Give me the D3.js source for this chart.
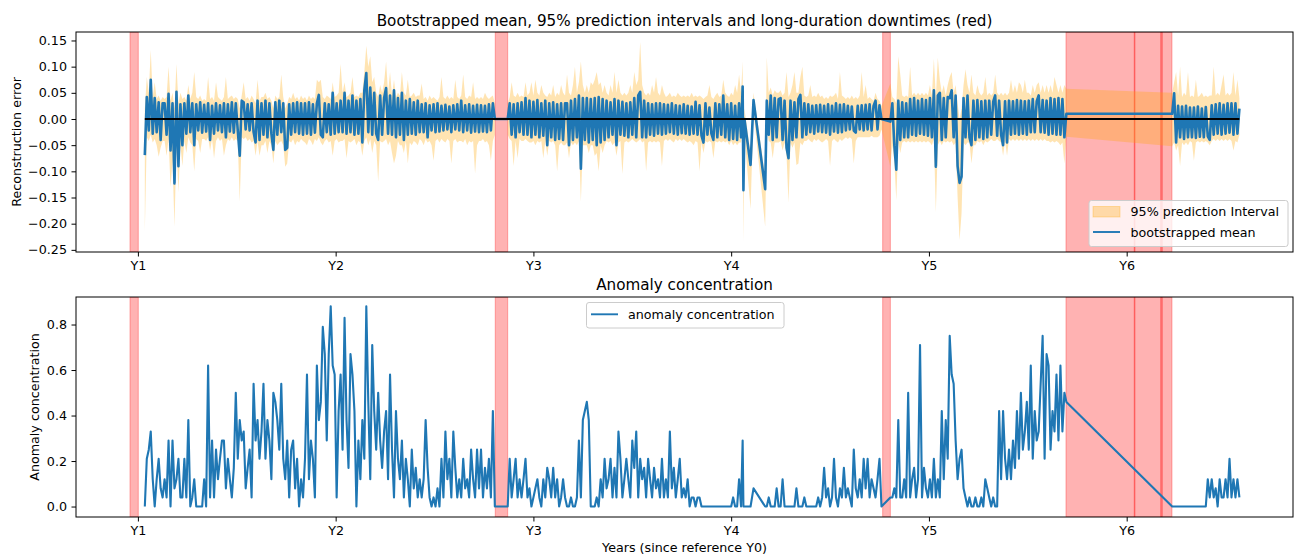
<!DOCTYPE html>
<html>
<head>
<meta charset="utf-8">
<script src="https://cdn.jsdelivr.net/npm/d3@7"></script>
<style>
  body { margin: 0; background: #fff; }
  svg { font-family: "DejaVu Sans", sans-serif; }
</style>
</head>
<body>
<div id="chart"></div>
<script>
// time grid: every segment starts at segStart (years since Y0) and steps 0.01 yr
var step = 0.01;
var segStart = [1.035, 2.87, 4.058, 4.062, 4.067, 4.098, 4.113, 4.172, 4.18, 4.805, 6.23];
var segCount = [178, 119, 1, 1, 1, 1, 1, 1, 59, 90, 35];
// the prediction band is not drawn across the downtime before Y3
var joinBand = [false, false, true, true, true, true, true, true, true, true, true];

// bootstrapped mean of the reconstruction error
var meanErr = [
  // Y1.035 - Y2.805
  -0.069, 0.042, -0.022, 0.075, -0.028, 0.04, -0.025, 0.032, -0.04, 0.03,
  0.03, -0.03, 0.048, -0.06, 0.03, -0.123, 0.052, -0.09, 0.028, -0.05,
  0.03, -0.028, 0.045, -0.025, 0.03, -0.05, 0.028, -0.022, 0.032, -0.026,
  0.027, -0.024, 0.03, -0.04, 0.025, -0.028, 0.03, -0.022, 0.026, -0.025,
  0.03, -0.035, 0.028, -0.024, 0.032, -0.026, 0.03, -0.022, -0.07, 0.035,
  0.032, -0.02, 0.028, -0.022, 0.03, -0.025, -0.045, 0.035, -0.04, 0.03,
  -0.03, 0.035, -0.035, 0.03, -0.028, -0.059, 0.032, -0.03, 0.035, -0.025,
  0.03, -0.059, -0.055, 0.028, -0.03, 0.03, -0.025, 0.032, -0.028, 0.03,
  -0.03, 0.03, -0.028, 0.032, -0.03, 0.028, -0.026, 0.03, 0.046, -0.03,
  -0.035, 0.03, -0.025, 0.028, -0.03, 0.05, -0.028, 0.03, -0.025, 0.035,
  -0.025, 0.05, -0.028, 0.035, -0.025, 0.045, -0.03, 0.035, -0.028, 0.038,
  -0.045, 0.055, 0.088, -0.025, 0.06, -0.03, 0.05, -0.028, -0.04, 0.045,
  -0.03, 0.04, 0.059, -0.028, 0.045, -0.03, 0.055, -0.035, 0.04, -0.03,
  0.05, -0.04, 0.035, -0.03, 0.038, -0.028, 0.032, -0.03, 0.035, -0.025,
  0.028, -0.025, 0.03, -0.035, 0.026, -0.022, 0.028, -0.025, 0.03, -0.024,
  0.025, -0.022, 0.027, -0.02, 0.024, -0.025, 0.026, -0.02, 0.028, -0.022,
  0.035, -0.025, 0.026, -0.022, 0.028, -0.026, 0.025, -0.024, 0.027, -0.025,
  0.026, -0.024, 0.025, -0.025, 0.028, -0.022, 0.03, 0.0,
  // Y2.87 - Y4.05
  0.0, 0.03, -0.03, 0.028, -0.035, 0.03, -0.025, 0.032, -0.03, 0.04,
  -0.03, 0.035, -0.035, 0.033, -0.03, 0.036, -0.035, 0.03, -0.032, 0.035,
  -0.05, 0.03, -0.035, 0.032, -0.04, 0.028, -0.038, 0.03, -0.04, 0.03,
  0.03, -0.05, 0.035, -0.04, 0.038, -0.035, 0.045, -0.095, 0.04, -0.04,
  0.04, -0.045, 0.038, -0.04, 0.04, -0.05, 0.042, -0.045, 0.038, -0.04,
  0.035, -0.035, 0.032, -0.03, 0.038, -0.05, 0.035, -0.03, 0.033, -0.032,
  0.03, -0.035, 0.032, -0.03, 0.04, -0.035, 0.045, 0.052, -0.035, 0.035,
  -0.035, 0.03, -0.03, 0.028, -0.032, 0.03, -0.028, 0.03, -0.03, 0.028,
  -0.028, 0.027, -0.025, 0.03, -0.028, 0.026, -0.03, 0.025, -0.027, 0.028,
  -0.028, 0.025, -0.03, 0.024, -0.028, 0.033, -0.03, 0.026, -0.032, -0.045,
  0.03, -0.03, 0.022, -0.028, -0.04, 0.03, -0.035, 0.028, -0.03, 0.045,
  -0.035, 0.028, -0.04, 0.03, -0.038, 0.025, -0.04, 0.03, -0.035,
  // sparse points after Y4
  0.062, -0.136, 0.0, -0.088, 0.036, -0.134,
  // Y4.18 - Y4.76
  0.035, -0.03, 0.045, -0.04, 0.04, -0.035, 0.038, 0.04, -0.04, 0.035,
  -0.055, -0.075, 0.035, -0.04, 0.032, -0.035, 0.038, 0.046, -0.035, 0.03,
  -0.03, 0.028, -0.025, 0.025, -0.028, 0.026, -0.024, 0.027, -0.025, 0.025,
  -0.026, 0.028, -0.03, 0.025, -0.024, 0.03, -0.026, 0.027, -0.025, 0.028,
  -0.022, 0.025, -0.02, 0.024, -0.022, -0.026, 0.025, -0.02, 0.026, -0.022,
  0.027, -0.02, 0.028, -0.022, 0.025, 0.035, -0.02, 0.026, 0.0,
  // Y4.805 - Y5.695
  -0.005, 0.03, -0.05, -0.097, 0.035, -0.04, 0.032, -0.035, 0.03, -0.035,
  0.038, -0.03, 0.04, -0.032, 0.035, -0.028, 0.038, -0.03, 0.036, -0.032,
  0.04, -0.035, 0.055, -0.091, 0.045, 0.05, -0.04, 0.04, -0.035, 0.042,
  0.04, 0.055, -0.035, 0.045, -0.09, -0.122, -0.11, 0.04, -0.035, 0.045,
  -0.035, -0.05, 0.035, -0.04, 0.036, -0.035, 0.034, -0.038, 0.035, -0.035,
  0.035, -0.03, 0.033, 0.045, -0.032, 0.035, -0.03, -0.05, 0.034, -0.045,
  0.035, -0.03, 0.034, -0.028, 0.036, -0.03, 0.035, -0.028, 0.034, -0.03,
  0.035, -0.025, 0.038, -0.025, 0.034, 0.045, -0.025, 0.036, -0.026, 0.035,
  -0.03, 0.04, -0.028, 0.038, -0.03, 0.04, -0.03, 0.038, -0.035, 0.01,
  // Y6.23 - Y6.57
  0.01, 0.049, -0.045, 0.025, -0.035, 0.024, -0.038, 0.025, -0.035, 0.022,
  -0.035, 0.022, -0.036, 0.024, -0.034, 0.02, -0.035, 0.023, -0.033, -0.04,
  0.026, -0.03, 0.028, -0.028, 0.03, -0.03, 0.027, -0.028, 0.03, -0.026,
  0.03, -0.03, 0.03, -0.028, 0.02
];

// upper bound of the 95% prediction interval
var upperPI = [
  0.02, 0.08, 0.05, 0.132, 0.042, 0.07, 0.038, 0.045, 0.035, 0.042,
  0.038, 0.042, 0.1, 0.035, 0.05, 0.02, 0.105, 0.03, 0.05, 0.038,
  0.042, 0.035, 0.065, 0.038, 0.05, 0.09, 0.042, 0.038, 0.045, 0.035,
  0.038, 0.035, 0.08, 0.038, 0.042, 0.035, 0.07, 0.042, 0.038, 0.035,
  0.042, 0.08, 0.038, 0.042, 0.045, 0.038, 0.042, 0.038, 0.02, 0.045,
  0.07, 0.038, 0.042, 0.035, 0.045, 0.038, 0.03, 0.075, 0.035, 0.042,
  0.042, 0.05, 0.038, 0.042, 0.035, 0.02, 0.045, 0.038, 0.042, 0.085,
  0.042, 0.02, 0.03, 0.042, 0.038, 0.05, 0.038, 0.042, 0.035, 0.045,
  0.038, 0.042, 0.035, 0.045, 0.038, 0.042, 0.038, 0.075, 0.07, 0.075,
  0.042, 0.038, 0.045, 0.042, 0.038, 0.07, 0.042, 0.045, 0.05, 0.105,
  0.05, 0.07, 0.042, 0.045, 0.05, 0.08, 0.042, 0.045, 0.042, 0.05,
  0.05, 0.09, 0.14, 0.1, 0.12, 0.07, 0.08, 0.05, 0.042, 0.065,
  0.05, 0.07, 0.11, 0.05, 0.09, 0.045, 0.075, 0.042, 0.05, 0.045,
  0.09, 0.05, 0.045, 0.075, 0.042, 0.045, 0.05, 0.042, 0.045, 0.045,
  0.068, 0.038, 0.042, 0.035, 0.045, 0.038, 0.042, 0.038, 0.035, 0.042,
  0.08, 0.042, 0.038, 0.045, 0.038, 0.042, 0.038, 0.075, 0.042, 0.038,
  0.045, 0.085, 0.042, 0.038, 0.045, 0.042, 0.07, 0.038, 0.042, 0.038,
  0.042, 0.038, 0.05, 0.042, 0.038, 0.042, 0.045, 0.03,
  0.03, 0.042, 0.07, 0.045, 0.042, 0.05, 0.042, 0.045, 0.042, 0.07,
  0.045, 0.05, 0.07, 0.045, 0.075, 0.05, 0.045, 0.065, 0.05, 0.045,
  0.042, 0.05, 0.045, 0.065, 0.042, 0.05, 0.045, 0.065, 0.05, 0.045,
  0.085, 0.05, 0.045, 0.065, 0.1, 0.05, 0.07, 0.11, 0.065, 0.05,
  0.065, 0.05, 0.07, 0.065, 0.075, 0.09, 0.065, 0.07, 0.05, 0.065,
  0.05, 0.045, 0.065, 0.05, 0.09, 0.05, 0.075, 0.05, 0.045, 0.05,
  0.045, 0.05, 0.065, 0.05, 0.09, 0.065, 0.075, 0.147, 0.065, 0.05,
  0.045, 0.05, 0.045, 0.065, 0.05, 0.08, 0.05, 0.045, 0.065, 0.05,
  0.042, 0.045, 0.05, 0.042, 0.045, 0.042, 0.05, 0.045, 0.042, 0.045,
  0.042, 0.045, 0.042, 0.05, 0.042, 0.045, 0.042, 0.045, 0.042, 0.038,
  0.042, 0.045, 0.065, 0.042, 0.038, 0.045, 0.05, 0.042, 0.045, 0.075,
  0.05, 0.045, 0.042, 0.05, 0.045, 0.065, 0.05, 0.085, 0.05,
  0.11, -0.1, 0.02, -0.065, 0.05, -0.11,
  0.118, 0.05, 0.06, 0.045, 0.055, 0.05, 0.05, 0.055, 0.045, 0.05,
  0.09, 0.042, 0.05, 0.065, 0.09, 0.05, 0.05, 0.08, 0.1, 0.045,
  0.042, 0.045, 0.065, 0.042, 0.045, 0.042, 0.05, 0.042, 0.045, 0.038,
  0.042, 0.038, 0.045, 0.042, 0.045, 0.05, 0.038, 0.09, 0.045, 0.042,
  0.038, 0.042, 0.038, 0.045, 0.038, 0.042, 0.038, 0.045, 0.09, 0.042,
  0.065, 0.038, 0.042, 0.038, 0.035, 0.05, 0.038, 0.035, 0.025,
  0.068, 0.042, 0.038, 0.03, 0.12, 0.085, 0.045, 0.042, 0.045, 0.042,
  0.1, 0.045, 0.05, 0.045, 0.05, 0.045, 0.05, 0.045, 0.05, 0.045,
  0.065, 0.045, 0.115, 0.042, 0.117, 0.075, 0.05, 0.065, 0.045, 0.065,
  0.08, 0.09, 0.05, 0.065, 0.03, 0.0, 0.02, 0.065, 0.095, 0.065,
  0.05, 0.085, 0.05, 0.045, 0.065, 0.05, 0.045, 0.05, 0.08, 0.045,
  0.05, 0.045, 0.05, 0.085, 0.05, 0.045, 0.05, 0.045, 0.05, 0.045,
  0.05, 0.075, 0.05, 0.065, 0.05, 0.07, 0.065, 0.05, 0.075, 0.05,
  0.05, 0.045, 0.065, 0.05, 0.065, 0.07, 0.05, 0.065, 0.05, 0.065,
  0.05, 0.065, 0.05, 0.08, 0.065, 0.05, 0.065, 0.05, 0.065, 0.058,
  0.05, 0.07, 0.09, 0.045, 0.1, 0.042, 0.05, 0.045, 0.09, 0.042,
  0.045, 0.042, 0.075, 0.042, 0.045, 0.05, 0.042, 0.045, 0.042, 0.045,
  0.045, 0.1, 0.045, 0.05, 0.045, 0.065, 0.085, 0.045, 0.05, 0.045,
  0.05, 0.09, 0.045, 0.075, 0.04
];

// lower bound of the 95% prediction interval
var lowerPI = [
  -0.215, -0.035, -0.042, -0.03, -0.045, -0.038, -0.05, -0.072, -0.055, -0.042,
  -0.042, -0.07, -0.038, -0.13, -0.08, -0.206, -0.05, -0.14, -0.05, -0.09,
  -0.042, -0.065, -0.035, -0.045, -0.05, -0.1, -0.038, -0.042, -0.065, -0.038,
  -0.038, -0.042, -0.035, -0.06, -0.038, -0.075, -0.042, -0.035, -0.042, -0.038,
  -0.07, -0.05, -0.038, -0.042, -0.035, -0.042, -0.038, -0.042, -0.158, -0.035,
  -0.038, -0.035, -0.042, -0.038, -0.045, -0.042, -0.07, -0.042, -0.07, -0.05,
  -0.05, -0.042, -0.065, -0.042, -0.05, -0.085, -0.042, -0.05, -0.045, -0.042,
  -0.05, -0.091, -0.085, -0.042, -0.045, -0.038, -0.05, -0.042, -0.045, -0.038,
  -0.042, -0.045, -0.05, -0.038, -0.042, -0.05, -0.038, -0.042, -0.035, -0.045,
  -0.05, -0.042, -0.038, -0.045, -0.042, -0.07, -0.042, -0.038, -0.045, -0.042,
  -0.042, -0.038, -0.075, -0.042, -0.045, -0.042, -0.038, -0.05, -0.042, -0.045,
  -0.07, -0.042, -0.035, -0.05, -0.038, -0.065, -0.042, -0.05, -0.12, -0.042,
  -0.045, -0.042, -0.038, -0.05, -0.042, -0.065, -0.085, -0.07, -0.042, -0.05,
  -0.05, -0.065, -0.042, -0.085, -0.045, -0.05, -0.042, -0.045, -0.05, -0.038,
  -0.042, -0.05, -0.038, -0.045, -0.042, -0.05, -0.08, -0.042, -0.038, -0.045,
  -0.038, -0.042, -0.045, -0.038, -0.042, -0.085, -0.042, -0.038, -0.045, -0.042,
  -0.042, -0.045, -0.038, -0.05, -0.042, -0.045, -0.042, -0.104, -0.05, -0.042,
  -0.042, -0.038, -0.045, -0.042, -0.05, -0.08, -0.042, -0.03,
  -0.03, -0.038, -0.042, -0.09, -0.042, -0.075, -0.038, -0.042, -0.042, -0.038,
  -0.042, -0.045, -0.045, -0.042, -0.05, -0.042, -0.045, -0.042, -0.075, -0.042,
  -0.07, -0.042, -0.045, -0.042, -0.05, -0.1, -0.05, -0.045, -0.05, -0.05,
  -0.045, -0.075, -0.045, -0.05, -0.045, -0.05, -0.042, -0.158, -0.05, -0.05,
  -0.05, -0.065, -0.05, -0.05, -0.07, -0.065, -0.1, -0.05, -0.065, -0.05,
  -0.042, -0.045, -0.042, -0.05, -0.045, -0.07, -0.045, -0.042, -0.105, -0.045,
  -0.042, -0.045, -0.042, -0.038, -0.042, -0.045, -0.042, -0.038, -0.045, -0.042,
  -0.1, -0.045, -0.042, -0.045, -0.042, -0.045, -0.042, -0.045, -0.09, -0.042,
  -0.038, -0.042, -0.038, -0.042, -0.045, -0.038, -0.042, -0.038, -0.042, -0.038,
  -0.042, -0.045, -0.042, -0.045, -0.05, -0.042, -0.045, -0.1, -0.045, -0.065,
  -0.042, -0.045, -0.042, -0.045, -0.075, -0.042, -0.045, -0.042, -0.045, -0.042,
  -0.045, -0.042, -0.05, -0.042, -0.05, -0.045, -0.05, -0.045, -0.045,
  -0.02, -0.234, -0.03, -0.172, 0.015, -0.206,
  -0.02, -0.042, -0.045, -0.075, -0.045, -0.045, -0.045, -0.042, -0.06, -0.045,
  -0.07, -0.16, -0.045, -0.055, -0.045, -0.088, -0.085, -0.045, -0.05, -0.042,
  -0.042, -0.038, -0.042, -0.045, -0.038, -0.042, -0.038, -0.042, -0.045, -0.042,
  -0.038, -0.042, -0.09, -0.042, -0.038, -0.042, -0.045, -0.038, -0.042, -0.038,
  -0.035, -0.038, -0.035, -0.038, -0.085, -0.042, -0.035, -0.035, -0.035, -0.035,
  -0.035, -0.035, -0.035, -0.032, -0.035, -0.035, -0.035, -0.032, -0.02,
  -0.091, -0.05, -0.08, -0.155, -0.045, -0.065, -0.045, -0.042, -0.045, -0.042,
  -0.045, -0.042, -0.045, -0.042, -0.045, -0.042, -0.045, -0.042, -0.045, -0.042,
  -0.045, -0.05, -0.038, -0.178, -0.05, -0.042, -0.05, -0.042, -0.045, -0.042,
  -0.045, -0.042, -0.05, -0.045, -0.15, -0.231, -0.18, -0.045, -0.05, -0.045,
  -0.045, -0.085, -0.05, -0.05, -0.042, -0.045, -0.042, -0.05, -0.042, -0.045,
  -0.042, -0.038, -0.042, -0.042, -0.038, -0.042, -0.045, -0.07, -0.042, -0.07,
  -0.038, -0.042, -0.038, -0.042, -0.038, -0.042, -0.038, -0.042, -0.038, -0.042,
  -0.038, -0.042, -0.038, -0.042, -0.038, -0.042, -0.038, -0.042, -0.038, -0.042,
  -0.042, -0.045, -0.042, -0.045, -0.042, -0.045, -0.05, -0.045, -0.085, -0.034,
  -0.052, -0.045, -0.06, -0.05, -0.09, -0.045, -0.05, -0.045, -0.05, -0.042,
  -0.045, -0.08, -0.045, -0.042, -0.045, -0.042, -0.045, -0.042, -0.045, -0.05,
  -0.042, -0.038, -0.042, -0.038, -0.042, -0.038, -0.042, -0.038, -0.042, -0.038,
  -0.042, -0.06, -0.042, -0.045, -0.03
];

// anomaly concentration, same time grid
var anomalyConc = [
  0, 0.21, 0.25, 0.33, 0.12, 0, 0.12, 0.21, 0.08, 0.04,
  0.12, 0.04, 0.29, 0, 0.29, 0.08, 0.12, 0.21, 0.04, 0.04,
  0.21, 0.04, 0.38, 0, 0.04, 0.12, 0, 0, 0, 0,
  0.12, 0, 0.62, 0.04, 0.29, 0.04, 0.25, 0.12, 0.21, 0.29,
  0.29, 0.08, 0.21, 0.12, 0.04, 0.17, 0.5, 0.21, 0.38, 0.29,
  0.33, 0.08, 0.17, 0.25, 0.04, 0.54, 0.29, 0.38, 0.21, 0.33,
  0.54, 0.21, 0.38, 0.29, 0.12, 0.5, 0.46, 0.38, 0.25, 0.54,
  0.21, 0.12, 0.29, 0.04, 0.25, 0.29, 0.08, 0.21, 0, 0.12,
  0.04, 0.21, 0.58, 0.12, 0.29, 0.21, 0.04, 0.62, 0.38, 0.46,
  0.79, 0.67, 0.29, 0.67, 0.88, 0.62, 0.58, 0.04, 0.42, 0.58,
  0.25, 0.83, 0.38, 0.17, 0.67, 0.58, 0.42, 0, 0.29, 0.12,
  0.38, 0.21, 0.88, 0.46, 0.12, 0.71, 0.42, 0.25, 0.5, 0.29,
  0.17, 0.33, 0.42, 0.12, 0.58, 0.25, 0.04, 0.42, 0.21, 0.12,
  0.29, 0.04, 0.21, 0.12, 0, 0.25, 0.08, 0.17, 0.04, 0.12,
  0.04, 0.12, 0.38, 0.17, 0.04, 0, 0.04, 0, 0.08, 0,
  0.21, 0.04, 0.33, 0.12, 0.21, 0.04, 0.33, 0.17, 0.04, 0.12,
  0.04, 0.21, 0.08, 0.12, 0.04, 0.25, 0.12, 0.04, 0.25, 0.08,
  0.25, 0.04, 0.17, 0.08, 0.21, 0.04, 0.42, 0,
  0, 0.21, 0.04, 0.12, 0.21, 0.04, 0.12, 0.04, 0.12, 0.21,
  0.04, 0.08, 0, 0.04, 0.08, 0.12, 0.04, 0, 0.12, 0.04,
  0.17, 0.12, 0.04, 0.17, 0.04, 0.12, 0, 0.04, 0.12, 0.04,
  0, 0, 0.04, 0, 0, 0.04, 0.29, 0.04, 0.38, 0.42,
  0.46, 0.38, 0, 0, 0, 0.04, 0, 0.12, 0.04, 0.21,
  0.08, 0.12, 0.21, 0.04, 0.17, 0.04, 0.33, 0.21, 0.04, 0.12,
  0.21, 0.12, 0.04, 0.29, 0.17, 0.33, 0.04, 0.21, 0.12, 0.17,
  0.04, 0.21, 0.12, 0.04, 0.17, 0.08, 0.12, 0.04, 0.21, 0.04,
  0.12, 0.04, 0.33, 0.08, 0.17, 0.04, 0.12, 0.21, 0.04, 0.08,
  0.04, 0.12, 0, 0.04, 0.04, 0, 0.04, 0.04, 0, 0,
  0, 0, 0, 0, 0, 0, 0, 0, 0, 0,
  0, 0, 0, 0, 0.04, 0, 0, 0.12, 0,
  0.29, 0, 0, 0, 0.08, 0,
  0, 0.04, 0, 0, 0, 0.08, 0, 0, 0.12, 0,
  0, 0, 0, 0, 0, 0.08, 0, 0, 0, 0.04,
  0, 0, 0, 0, 0, 0, 0.04, 0, 0.04, 0.17,
  0.04, 0.08, 0, 0.04, 0.21, 0.04, 0, 0.08, 0.04, 0.17,
  0.04, 0.08, 0.04, 0, 0.25, 0.08, 0.04, 0.12, 0.04, 0.21,
  0.08, 0.21, 0.04, 0.12, 0.08, 0.04, 0.12, 0.21, 0,
  0.04, 0.04, 0.08, 0.04, 0.38, 0.04, 0.04, 0.12, 0.04, 0.5,
  0.04, 0.12, 0.17, 0.04, 0.12, 0.71, 0.04, 0.17, 0.08, 0.04,
  0.12, 0.04, 0.21, 0.04, 0.12, 0.04, 0.42, 0.12, 0.38, 0.21,
  0.75, 0.58, 0.54, 0.29, 0.12, 0.21, 0.25, 0.08, 0.04, 0,
  0.04, 0, 0, 0.04, 0, 0, 0.04, 0, 0.12, 0.08,
  0.04, 0, 0.04, 0, 0, 0.42, 0.12, 0.42, 0.21, 0.12,
  0.25, 0.12, 0.29, 0.17, 0.42, 0.21, 0.5, 0.25, 0.33, 0.46,
  0.25, 0.62, 0.21, 0.42, 0.29, 0.33, 0.54, 0.75, 0.21, 0.67,
  0.62, 0.25, 0.42, 0.33, 0.58, 0.29, 0.62, 0.33, 0.5, 0.46,
  0, 0, 0, 0, 0, 0, 0, 0, 0, 0,
  0, 0, 0, 0, 0, 0, 0, 0, 0.12, 0.04,
  0.12, 0.04, 0.08, 0, 0.12, 0.04, 0.04, 0.12, 0.04, 0.21,
  0.04, 0.12, 0.04, 0.12, 0.04
];

// long-duration downtimes (years)
var downStart = [0.96, 2.807, 4.766, 5.693, 6.038, 6.172];
var downEnd = [1.002, 2.87, 4.805, 6.229, 6.042, 6.18];

var xTicks = [1, 2, 3, 4, 5, 6];
var xTickLabels = ["Y1", "Y2", "Y3", "Y4", "Y5", "Y6"];
var errTicks = [0.15, 0.10, 0.05, 0.00, -0.05, -0.10, -0.15, -0.20, -0.25];
var concTicks = [0.0, 0.2, 0.4, 0.6, 0.8];

// axis limits
var xLim = [0.687, 6.841];
var errLim = [-0.2541, 0.1662];
var concLim = [-0.046, 0.921];

// ---- build records
var records = [];
var k = 0;
segStart.forEach(function (s, i) {
  for (var j = 0; j < segCount[i]; j++, k++) {
    records.push({ t: s + j * step, seg: i, mean: meanErr[k], hi: upperPI[k], lo: lowerPI[k], conc: anomalyConc[k] });
  }
});
if (k !== meanErr.length || k !== upperPI.length || k !== lowerPI.length || k !== anomalyConc.length) {
  console.error("length mismatch", k, meanErr.length, upperPI.length, lowerPI.length, anomalyConc.length);
}

var bands = [];
records.forEach(function (d, i) {
  if (i === 0 || (d.seg !== records[i - 1].seg && !joinBand[d.seg])) bands.push([]);
  bands[bands.length - 1].push(d);
});

// ---- layout
var W = 1294, H = 557;
var left = 76, right = 1293;
var top1 = 32, bottom1 = 252;
var top2 = 297, bottom2 = 517;
var fs = 12.7, titleFs = 15.2;

var svg = d3.select("#chart").append("svg")
    .attr("width", W)
    .attr("height", H);

var x = d3.scaleLinear().domain(xLim).range([left, right]);
var yErr = d3.scaleLinear().domain(errLim).range([bottom1, top1]);
var yConc = d3.scaleLinear().domain(concLim).range([bottom2, top2]);

function drawSpans(g, top, bottom) {
    g.append("g")
        .selectAll("rect")
        .data(downStart.map(function (s, i) { return [s, downEnd[i]]; }))
        .enter()
        .append("rect")
        .attr("x", function (d) { return x(d[0]); })
        .attr("width", function (d) { return x(d[1]) - x(d[0]); })
        .attr("y", top)
        .attr("height", bottom - top)
        .attr("fill", "red")
        .attr("fill-opacity", 0.3)
        .attr("stroke", "red")
        .attr("stroke-opacity", 0.3)
        .attr("stroke-width", 1);
}

function drawFrame(top, bottom) {
    svg.append("rect")
        .attr("x", left)
        .attr("y", top)
        .attr("width", right - left)
        .attr("height", bottom - top)
        .attr("fill", "none")
        .attr("stroke", "#000")
        .attr("stroke-width", 1);
}

function styleAxis(g) {
    g.select(".domain").remove();
    g.selectAll(".tick line").attr("stroke", "#000").attr("stroke-width", 1);
    g.selectAll(".tick text")
        .attr("fill", "#000")
        .style("font-size", fs + "px")
        .style("font-family", "DejaVu Sans");
}

// ================= top panel
svg.append("clipPath").attr("id", "clip1")
    .append("rect").attr("x", left).attr("y", top1)
    .attr("width", right - left).attr("height", bottom1 - top1);

var p1 = svg.append("g").attr("clip-path", "url(#clip1)");
drawSpans(p1, top1, bottom1);

var band = d3.area()
    .x(function (d) { return x(d.t); })
    .y0(function (d) { return yErr(d.lo); })
    .y1(function (d) { return yErr(d.hi); });

p1.append("g")
    .selectAll("path")
    .data(bands)
    .enter()
    .append("path")
    .attr("d", band)
    .attr("fill", "orange")
    .attr("fill-opacity", 0.3);

p1.append("path")
    .datum(records)
    .attr("fill", "none")
    .attr("stroke", "#1f77b4")
    .attr("stroke-width", 2.6)
    .attr("stroke-linejoin", "round")
    .attr("d", d3.line()
        .x(function (d) { return x(d.t); })
        .y(function (d) { return yErr(d.mean); }));

// zero reference line over the observed period
var tExtent = d3.extent(records, function (d) { return d.t; });
p1.append("path")
    .datum([tExtent[0], tExtent[1]])
    .attr("fill", "none")
    .attr("stroke", "#000")
    .attr("stroke-width", 1.9)
    .attr("d", d3.line()
        .x(function (d) { return x(d); })
        .y(function () { return yErr(0); }));

drawFrame(top1, bottom1);

svg.append("g")
    .attr("transform", "translate(" + left + ",0)")
    .call(d3.axisLeft(yErr).tickValues(errTicks).tickFormat(d3.format(".2f"))
        .tickSize(4.5).tickPadding(4.5))
    .call(styleAxis);

svg.append("g")
    .attr("transform", "translate(0," + bottom1 + ")")
    .call(d3.axisBottom(x).tickValues(xTicks)
        .tickFormat(function (d, i) { return xTickLabels[i]; })
        .tickSize(4.5).tickPadding(4.5))
    .call(styleAxis);

svg.append("text")
    .attr("x", (left + right) / 2)
    .attr("y", 26)
    .attr("text-anchor", "middle")
    .style("font-size", titleFs + "px")
    .text("Bootstrapped mean, 95% prediction intervals and long-duration downtimes (red)");

svg.append("text")
    .attr("transform", "translate(20.5," + (top1 + bottom1) / 2 + ") rotate(-90)")
    .attr("text-anchor", "middle")
    .style("font-size", fs + "px")
    .text("Reconstruction error");

// legend (top)
var lg1 = svg.append("g");
lg1.append("rect")
    .attr("x", 1089).attr("y", 200.5)
    .attr("width", 199).attr("height", 46)
    .attr("rx", 2.5)
    .attr("fill", "#fff").attr("fill-opacity", 0.8)
    .attr("stroke", "#ccc");
lg1.append("rect")
    .attr("x", 1093).attr("y", 206.5)
    .attr("width", 27).attr("height", 10.5)
    .attr("fill", "orange").attr("fill-opacity", 0.3)
    .attr("stroke", "orange").attr("stroke-opacity", 0.3);
lg1.append("text")
    .attr("x", 1130.5).attr("y", 216)
    .style("font-size", fs + "px")
    .text("95% prediction Interval");
lg1.append("line")
    .attr("x1", 1093).attr("x2", 1120)
    .attr("y1", 232).attr("y2", 232)
    .attr("stroke", "#1f77b4").attr("stroke-width", 1.9);
lg1.append("text")
    .attr("x", 1130.5).attr("y", 236.5)
    .style("font-size", fs + "px")
    .text("bootstrapped mean");

// ================= bottom panel
svg.append("clipPath").attr("id", "clip2")
    .append("rect").attr("x", left).attr("y", top2)
    .attr("width", right - left).attr("height", bottom2 - top2);

var p2 = svg.append("g").attr("clip-path", "url(#clip2)");
drawSpans(p2, top2, bottom2);

p2.append("path")
    .datum(records)
    .attr("fill", "none")
    .attr("stroke", "#1f77b4")
    .attr("stroke-width", 2.1)
    .attr("stroke-linejoin", "round")
    .attr("d", d3.line()
        .x(function (d) { return x(d.t); })
        .y(function (d) { return yConc(d.conc); }));

drawFrame(top2, bottom2);

svg.append("g")
    .attr("transform", "translate(" + left + ",0)")
    .call(d3.axisLeft(yConc).tickValues(concTicks).tickFormat(d3.format(".1f"))
        .tickSize(4.5).tickPadding(4.5))
    .call(styleAxis);

svg.append("g")
    .attr("transform", "translate(0," + bottom2 + ")")
    .call(d3.axisBottom(x).tickValues(xTicks)
        .tickFormat(function (d, i) { return xTickLabels[i]; })
        .tickSize(4.5).tickPadding(4.5))
    .call(styleAxis);

svg.append("text")
    .attr("x", (left + right) / 2)
    .attr("y", 289.5)
    .attr("text-anchor", "middle")
    .style("font-size", titleFs + "px")
    .text("Anomaly concentration");

svg.append("text")
    .attr("x", (left + right) / 2)
    .attr("y", 552)
    .attr("text-anchor", "middle")
    .style("font-size", fs + "px")
    .text("Years (since reference Y0)");

svg.append("text")
    .attr("transform", "translate(38.5," + (top2 + bottom2) / 2 + ") rotate(-90)")
    .attr("text-anchor", "middle")
    .style("font-size", fs + "px")
    .text("Anomaly concentration");

// legend (bottom)
var lg2 = svg.append("g");
lg2.append("rect")
    .attr("x", 586.5).attr("y", 302.5)
    .attr("width", 197.5).attr("height", 25.5)
    .attr("rx", 2.5)
    .attr("fill", "#fff").attr("fill-opacity", 0.8)
    .attr("stroke", "#ccc");
lg2.append("line")
    .attr("x1", 591).attr("x2", 618)
    .attr("y1", 314.3).attr("y2", 314.3)
    .attr("stroke", "#1f77b4").attr("stroke-width", 1.9);
lg2.append("text")
    .attr("x", 628).attr("y", 318.5)
    .style("font-size", fs + "px")
    .text("anomaly concentration");
</script>
</body>
</html>
